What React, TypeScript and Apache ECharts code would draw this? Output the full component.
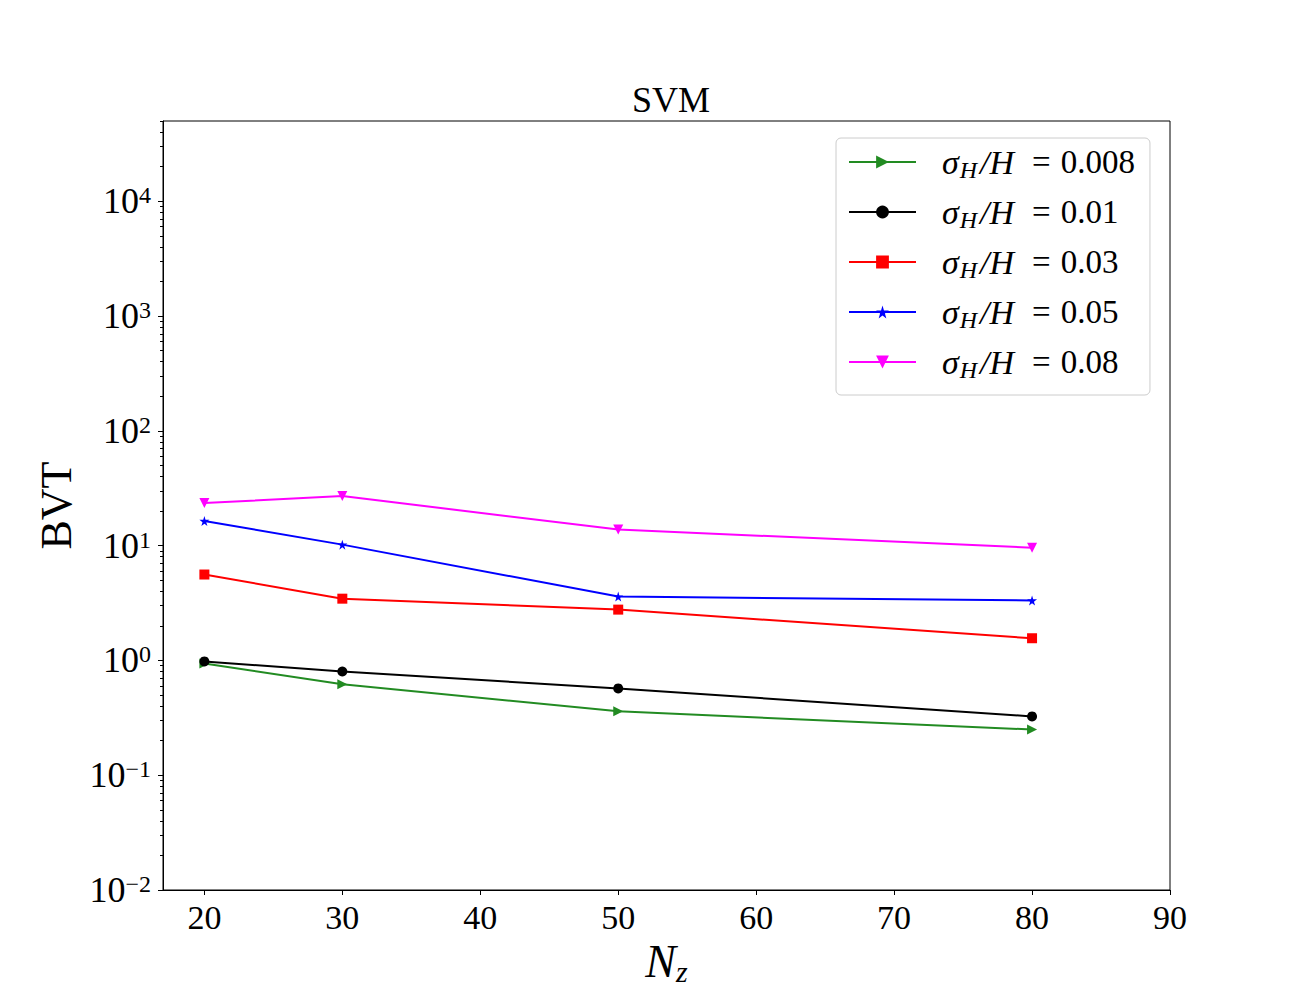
import React, { useEffect, useRef } from "react";
import * as echarts from "echarts";

const xValues = [20, 30, 50, 80];
const seriesNames = ["0.008", "0.01", "0.03", "0.05", "0.08"];
const bvt008 = [0.94, 0.62, 0.36, 0.25];
const bvt01 = [0.98, 0.8, 0.57, 0.325];
const bvt03 = [5.6, 3.45, 2.77, 1.56];
const bvt05 = [16.4, 10.2, 3.6, 3.33];
const bvt08 = [23.5, 27.0, 13.8, 9.6];
const xTicks = [20, 30, 40, 50, 60, 70, 80, 90];
const yTicks = [0.01, 0.1, 1, 10, 100, 1000, 10000];
const yMinorTicks: number[] = [];
for (let e = -2; e <= 4; e++) {
  for (let m = 2; m <= 9; m++) {
    const v = m * Math.pow(10, e);
    if (v <= 50000) yMinorTicks.push(Number(v.toPrecision(3)));
  }
}

const FONT = "'Liberation Serif', 'DejaVu Serif', serif";
const STAR =
  "path://M50,0 L61,35 L98,35 L68,57 L79,91 L50,70 L21,91 L32,57 L2,35 L39,35 Z";

export default function App() {
  const ref = useRef<HTMLDivElement>(null);
  useEffect(() => {
    document.body.style.margin = "0";
    const chart = echarts.init(ref.current!, undefined, { renderer: "svg" });
    const mk = (
      name: string,
      data: number[],
      color: string,
      symbol: string,
      size: number,
      rotate = 0
    ) => ({
      name,
      type: "line",
      data: xValues.map((x, i) => [x, data[i]]),
      color,
      symbol,
      symbolSize: size,
      symbolRotate: rotate,
      showSymbol: true,
      lineStyle: { color, width: 2 },
      itemStyle: { color },
      z: 3,
    });
    const series = [
      mk(seriesNames[0], bvt008, "#228B22", "triangle", 10, -90),
      mk(seriesNames[1], bvt01, "#000000", "circle", 10),
      mk(seriesNames[2], bvt03, "#ff0000", "rect", 10),
      mk(seriesNames[3], bvt05, "#0000ff", STAR, 10),
      mk(seriesNames[4], bvt08, "#ff00ff", "triangle", 10, 180),
    ];
    chart.setOption({
      animation: false,
      backgroundColor: "#ffffff",
      title: {
        text: "SVM",
        left: 666,
        top: 77,
        textAlign: "center",
        textStyle: { fontFamily: FONT, fontSize: 36, fontWeight: "normal", color: "#000" },
      },
      grid: {
        left: 163,
        right: 130,
        top: 121,
        bottom: 110,
        show: true,
        borderColor: "#000",
        borderWidth: 1,
        backgroundColor: "transparent",
      },
      legend: {
        orient: "vertical",
        left: 836,
        top: 138,
        padding: [4, 15, 13, 12],
        itemWidth: 67,
        itemHeight: 16,
        itemGap: 10,
        backgroundColor: "#fff",
        borderColor: "#cccccc",
        borderWidth: 1,
        borderRadius: 5,
        data: seriesNames,
        formatter: (name: string) =>
          `{sp|}{s|σ}{sub|H}{h|/H}{eq|=}{n|${name}}`,
        textStyle: {
          fontFamily: FONT,
          fontSize: 32,
          color: "#000",
          lineHeight: 40,
          rich: {
            sp: { width: 21, lineHeight: 40 },
            s: { fontFamily: FONT, fontStyle: "italic", fontSize: 34, lineHeight: 40 },
            sub: {
              fontFamily: FONT,
              fontStyle: "italic",
              fontSize: 24,
              lineHeight: 40,
              verticalAlign: "bottom",
              padding: [0, 3, 0, 1],
            },
            h: { fontFamily: FONT, fontStyle: "italic", fontSize: 34, lineHeight: 40 },
            eq: { fontFamily: FONT, fontSize: 33, lineHeight: 40, padding: [0, 10, 0, 18] },
            n: { fontFamily: FONT, fontSize: 33, lineHeight: 40 },
          },
        },
      },
      xAxis: {
        type: "value",
        min: 17,
        max: 90,
        name: "{n|N}{z|z}",
        nameLocation: "middle",
        nameGap: 37,
        nameTextStyle: {
          rich: {
            n: { fontFamily: FONT, fontStyle: "italic", fontSize: 46, color: "#000", lineHeight: 50, verticalAlign: "middle" },
            z: { fontFamily: FONT, fontStyle: "italic", fontSize: 30, color: "#000", lineHeight: 50, verticalAlign: "bottom" },
          },
        },
        splitLine: { show: false },
        axisLine: { show: true, onZero: false, lineStyle: { color: "#000", width: 1 } },
        axisTick: { show: true, inside: false, length: 5, customValues: xTicks, lineStyle: { color: "#000" } },
        axisLabel: {
          customValues: xTicks,
          margin: 10,
          fontFamily: FONT,
          fontSize: 34,
          color: "#000",
        },
      },
      yAxis: [
        {
          type: "log",
          logBase: 10,
          min: 0.01,
          max: 50000,
          name: "BVT",
          nameLocation: "middle",
          nameRotate: 90,
          nameGap: 84,
          nameTextStyle: { fontFamily: FONT, fontSize: 44, color: "#000" },
          splitLine: { show: false },
          minorTick: { show: false },
          axisLine: { show: true, onZero: false, lineStyle: { color: "#000", width: 1 } },
          axisTick: { show: true, inside: false, length: 5, customValues: yTicks, lineStyle: { color: "#000" } },
          axisLabel: {
            customValues: yTicks,
            margin: 12,
            formatter: (v: number) => {
              const e = Math.round(Math.log10(v));
              return `{b|10}{e|${e < 0 ? "−" + -e : e}}`;
            },
            rich: {
              b: { fontFamily: FONT, fontSize: 36, color: "#000", lineHeight: 36, verticalAlign: "middle" },
              e: { fontFamily: FONT, fontSize: 24, color: "#000", lineHeight: 36, verticalAlign: "top" },
            },
          },
        },
        {
          type: "log",
          logBase: 10,
          min: 0.01,
          max: 50000,
          position: "left",
          splitLine: { show: false },
          axisLine: { show: false },
          axisLabel: { show: false },
          axisTick: { show: true, inside: false, length: 3, customValues: yMinorTicks, lineStyle: { color: "#000" } },
        },
      ],
      series,
    });
    return () => chart.dispose();
  }, []);
  return <div ref={ref} style={{ width: 1300, height: 1000 }} />;
}
